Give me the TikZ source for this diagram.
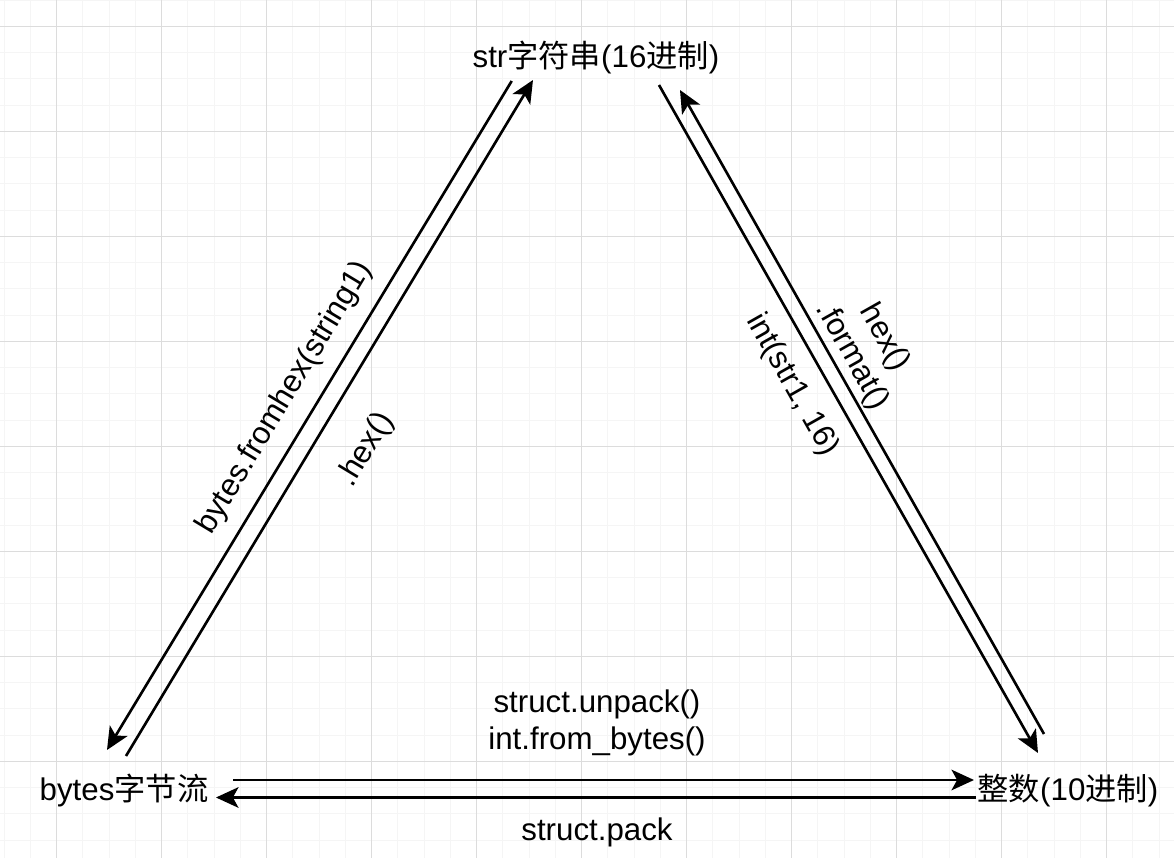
\documentclass[tikz,border=0pt]{standalone}
\usepackage{fontspec}
\setmainfont{Liberation Sans}
\newfontfamily\cjk{Noto Sans CJK SC}
\usetikzlibrary{arrows.meta}
\definecolor{gridminor}{HTML}{F5F5F5}
\definecolor{gridmajor}{HTML}{DCDCDC}

\begin{document}
\begin{tikzpicture}[x=0.02cm,y=-0.02cm,
                conv/.style={line width=1.5pt,-{Stealth[length=12.8pt,width=11.7pt,inset=3.2pt]}},
                txt/.style={inner sep=0pt,font=\fontsize{17.8}{21}\selectfont,align=center}]
                \useasboundingbox (0,0) rectangle (1174,858);
                \fill[white] (0,0) rectangle (1174,858);
                \foreach \i in {0,...,44} \draw[gridminor,line width=0.6pt] (4.2+26.25*\i,0)--(4.2+26.25*\i,858);
                \foreach \i in {0,...,32} \draw[gridminor,line width=0.6pt] (0,0.05+26.25*\i)--(1174,0.05+26.25*\i);
                \foreach \i in {0,...,10} \draw[gridmajor,line width=0.6pt] (56.7+105*\i,0)--(56.7+105*\i,858);
                \foreach \i in {0,...,7} \draw[gridmajor,line width=0.6pt] (0,26.3+105*\i)--(1174,26.3+105*\i);
                \node[txt] (str) at (596,57) {str{\cjk 字符串}(16{\cjk 进制})};
                \node[txt] (bytes) at (124,790) {bytes{\cjk 字节流}};
                \node[txt] (dec) at (1068,791) {{\cjk 整数}(10{\cjk 进制})};
                \coordinate (a1) at (511.7,81);
                \coordinate (a2) at (107,750);
                \coordinate (b1) at (126,756);
                \coordinate (b2) at (533,80);
                \coordinate (c1) at (659,85);
                \coordinate (c2) at (1038,753);
                \coordinate (d1) at (1044,734);
                \coordinate (d2) at (680,90);
                \coordinate (e1) at (233,780);
                \coordinate (e2) at (974,780);
                \coordinate (f1) at (976,797.5);
                \coordinate (f2) at (216,797.5);
                \draw[conv] (a1)--(a2);
                \draw[conv] (b1)--(b2);
                \draw[conv] (c1)--(c2);
                \draw[conv] (d1)--(d2);
                \draw[conv] (e1)--(e2);
                \draw[conv] (f1)--(f2);
                \node[txt,rotate=58.9] (fromhex) at (285,398) {bytes.fromhex(string1)};
                \node[txt,rotate=58.9] (tohex) at (366,450) {.hex()};
                \node[txt,rotate=-60.5] (fmt) at (868,347) {hex()\\.format()};
                \node[txt,rotate=-60.5] (intstr) at (792,385) {int(str1, 16)};
                \node[txt] (unpack) at (597,723) {struct.unpack()\\int.from\_bytes()};
                \node[txt] (pack) at (597,832) {struct.pack};
            \end{tikzpicture}
\end{document}
